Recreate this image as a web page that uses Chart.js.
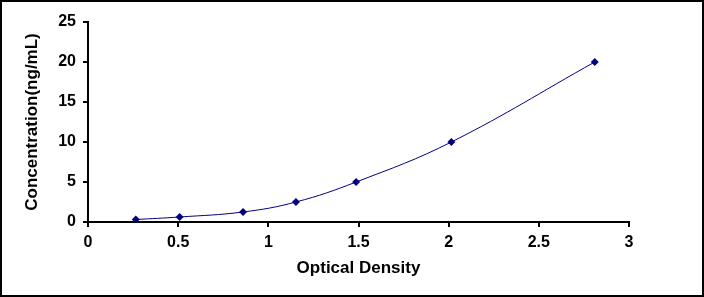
<!DOCTYPE html>
<html>
<head>
<meta charset="utf-8">
<script src="https://cdn.jsdelivr.net/npm/chart.js@4"></script>
<style>
  body { margin: 0; background: #fff; }
  #wrap { width: 704px; height: 297px; box-sizing: border-box; border: 2px solid #000; background: #fff; }
</style>
</head>
<body>
<div id="wrap"><canvas id="myChart" width="700" height="293"></canvas></div>
<script>
// standard curve readings
let odValues = [0.265, 0.508, 0.86, 1.153, 1.487, 2.015, 2.81];
let concValues = [0.312, 0.625, 1.25, 2.5, 5, 10, 20];
let xTicks = [0, 0.5, 1, 1.5, 2, 2.5, 3];
let yTicks = [0, 5, 10, 15, 20, 25];

let points = [];
for (let i = 0; i < odValues.length; i++) {
    points.push({x: odValues[i], y: concValues[i]});
}

let fontFamily = "'Liberation Sans', Arial, sans-serif";
let navy = "#000080";

new Chart("myChart", {
    type: "scatter",
    data: {
        datasets: [{
            data: points,
            showLine: true,
            tension: 0.4,
            borderColor: navy,
            borderWidth: 1,
            backgroundColor: navy,
            pointStyle: "rectRot",
            pointRadius: 4,
            pointBorderWidth: 0
        }]
    },
    options: {
        responsive: false,
        animation: false,
        layout: {padding: {left: 0, top: 20, right: 73, bottom: 8}},
        plugins: {legend: {display: false}, tooltip: {enabled: false}},
        scales: {
            x: {
                type: "linear",
                min: 0, max: 3,
                afterBuildTicks: s => { s.ticks = xTicks.map(v => ({value: v})); },
                afterFit: s => { s.height = 65; },
                grid: {drawOnChartArea: false, drawTicks: true, tickLength: 5, color: "#000", lineWidth: 2},
                border: {color: "#000", width: 2},
                ticks: {color: "#000", padding: 6, callback: v => String(v),
                        font: {family: fontFamily, size: 16, weight: "bold"}},
                title: {display: true, text: "Optical Density", color: "#000", padding: 8,
                        font: {family: fontFamily, size: 17, weight: "bold"}}
            },
            y: {
                type: "linear",
                min: 0, max: 25,
                afterBuildTicks: s => { s.ticks = yTicks.map(v => ({value: v})); },
                afterFit: s => { s.width = 86; },
                grid: {drawOnChartArea: false, drawTicks: true, tickLength: 5, color: "#000", lineWidth: 2},
                border: {color: "#000", width: 2},
                ticks: {color: "#000", padding: 7, callback: v => String(v),
                        font: {family: fontFamily, size: 16, weight: "bold"}},
                title: {display: true, text: "Concentration(ng/mL)", color: "#000", padding: 20,
                        font: {family: fontFamily, size: 17, weight: "bold"}}
            }
        }
    }
});
</script>
</body>
</html>
